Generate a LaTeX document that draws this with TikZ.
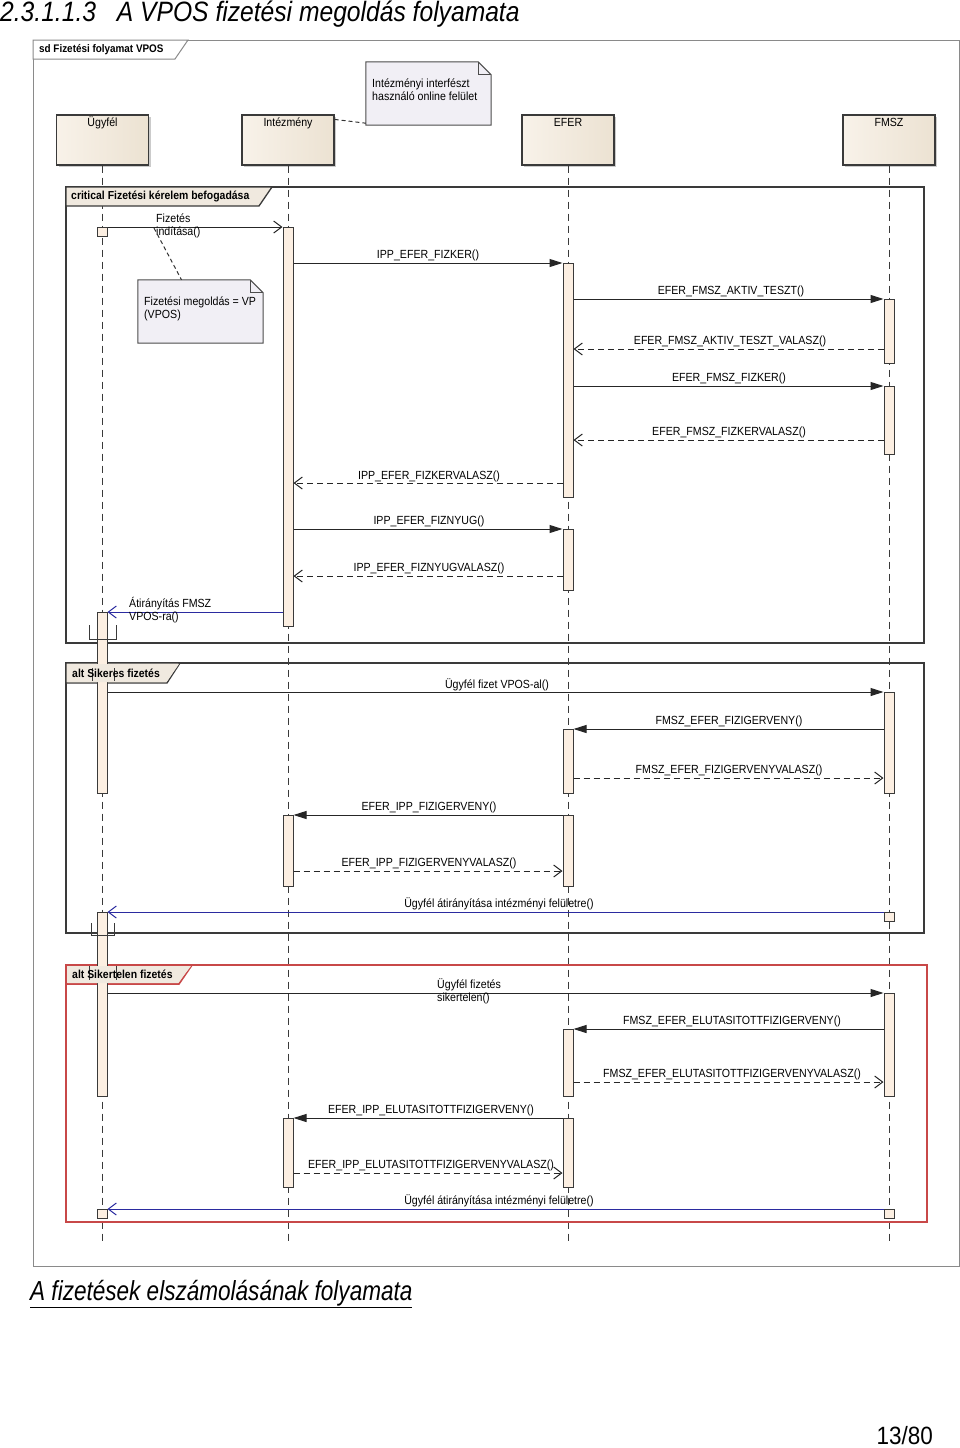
\documentclass[tikz,border=0pt]{standalone}
\usepackage{fontspec}
\setmainfont{Liberation Sans}[FakeStretch=0.9]
\newfontfamily\titlefont{Liberation Sans}[FakeStretch=0.88]
\newfontfamily\subfont{Liberation Sans}[FakeStretch=0.82]
\usetikzlibrary{arrows.meta,shadows}
\definecolor{headL}{HTML}{F8F2E9}
\definecolor{headR}{HTML}{ECE2D2}
\definecolor{actfill}{HTML}{FCEFE2}
\definecolor{notefill}{HTML}{F1EFF5}
\definecolor{framec}{HTML}{3A3A3A}
\definecolor{outerc}{HTML}{8A8A8A}
\definecolor{redc}{HTML}{C84848}
\definecolor{bluec}{HTML}{2B2BA0}
\definecolor{lblfill}{HTML}{F0E9DF}
\begin{document}
\begin{tikzpicture}[x=1pt,y=-1pt,
  head/.style={draw=framec, line width=1.2pt, left color=headL, right color=headR,
    minimum width=92pt, minimum height=50pt, inner sep=0pt,
    drop shadow={shadow xshift=2pt, shadow yshift=-2pt, fill=black!40, opacity=0.5}},
  htxt/.style={font=\fontsize{11.8}{13}\selectfont, inner sep=0pt, anchor=base},
  life/.style={draw=framec, line width=1pt, dash pattern=on 7pt off 5pt},
  act/.style={draw=framec, line width=1pt, fill=actfill, minimum width=10pt, inner sep=0pt, anchor=north},
  sq/.style={draw=framec, line width=1pt, fill=actfill, minimum width=10pt, minimum height=9pt, inner sep=0pt, anchor=north},
  lbl/.style={font=\fontsize{11.8}{13}\selectfont, inner sep=0pt, yshift=-1pt},
  lbl2/.style={font=\fontsize{11.8}{13}\selectfont, inner sep=0pt, align=left, anchor=north west},
  flbl/.style={font=\bfseries\fontsize{11.6}{13}\selectfont, inner sep=0pt, anchor=west},
  callmsg/.style={draw=black!85, line width=1pt, -{Triangle[length=13pt,width=8pt]}},
  retmsg/.style={draw=black!85, line width=1pt, dash pattern=on 6pt off 4pt, -{Straight Barb[length=8pt,width=12pt,line width=1pt]}},
  openmsg/.style={draw=black!85, line width=1pt, -{Straight Barb[length=8pt,width=12pt,line width=1pt]}},
  bluemsg/.style={draw=bluec, line width=1pt, -{Straight Barb[length=8pt,width=12pt,line width=1pt]}},
  notebox/.style={inner sep=0pt},
  noteline/.style={draw=black!70, line width=1pt, fill=notefill},
  frame/.style={draw=framec, line width=1.3pt},
  gate/.style={draw=framec, line width=1pt}
]
\useasboundingbox (0,0) rectangle (960,1448);
\fill[white] (0,0) rectangle (960,1448);

% title
\node[font=\titlefont\itshape\fontsize{28}{30}\selectfont, inner sep=0pt, anchor=base west] (title) at (0,21) {2.3.1.1.3\hspace{0.5em} A VPOS fizetési megoldás folyamata};

% outer frame
\draw[draw=outerc, line width=1pt] (33,40) rectangle (959,1266);
\draw[draw=outerc, line width=1pt, fill=white] (33,40) -- (188,40) -- (175,59) -- (33,59) -- cycle;
\node[flbl, font=\bfseries\fontsize{11}{13}\selectfont] (sdl) at (39,49.5) {sd Fizetési folyamat VPOS};

% lifeline heads
\node[head] (hu) at (102.5,140) {};
\node[head] (hi) at (288,140) {};
\node[head] (he) at (568,140) {};
\node[head] (hf) at (889,140) {};
\node[htxt] (hut) at ([yshift=-12pt]hu.north) {Ügyfél};
\node[htxt] (hit) at ([yshift=-12pt]hi.north) {Intézmény};
\node[htxt] (het) at ([yshift=-12pt]he.north) {EFER};
\node[htxt] (hft) at ([yshift=-12pt]hf.north) {FMSZ};

% lifelines
\draw[life] (hu.south) -- (hu.south |- 0,1245);
\draw[life] (hi.south) -- (hi.south |- 0,1245);
\draw[life] (he.south) -- (he.south |- 0,1245);
\draw[life] (hf.south) -- (hf.south |- 0,1245);

% note 1
\node[notebox, minimum width=125pt, minimum height=63pt] (n1) at (428.5,93.5) {};
\draw[noteline] (n1.north west) -- ([xshift=-13pt]n1.north east) -- ([yshift=-13pt]n1.north east) -- (n1.south east) -- (n1.south west) -- cycle;
\draw[draw=black!70, line width=1pt] ([xshift=-13pt]n1.north east) -- ([xshift=-13pt,yshift=-13pt]n1.north east) -- ([yshift=-13pt]n1.north east);
\node[lbl2] (n1t) at (372,79) {Intézményi interfészt\\használó online felület};
\draw[black!80, line width=1pt, dash pattern=on 4pt off 3pt] ([yshift=-5pt]hi.north east) -- ([yshift=2pt]n1.south west);

% frames
\draw[frame] (66,187) rectangle (924,643);
\draw[frame, fill=lblfill] (66,187) -- (272,187) -- (259,206) -- (66,206) -- cycle;
\node[flbl] (cl) at (71,196.5) {critical Fizetési kérelem befogadása};

\draw[frame] (66,663) rectangle (924,933);
\draw[frame, fill=lblfill] (66,663) -- (180,663) -- (167,683) -- (66,683) -- cycle;

\draw[frame, draw=redc, line width=1.6pt] (66,965) rectangle (927,1222);
\draw[frame, draw=redc, line width=1.6pt, fill=lblfill] (66,965) -- (192,965) -- (179,984) -- (66,984) -- cycle;

% activations
\node[act, minimum height=181pt] (u1) at (102,612) {};
\node[act, minimum height=184pt] (u2) at (102,912) {};
\node[act, minimum height=399pt] (i1) at (288,227) {};
\node[act, minimum height=71pt] (i2) at (288,815) {};
\node[act, minimum height=69pt] (i3) at (288,1118) {};
\node[act, minimum height=234pt] (e1) at (568,263) {};
\node[act, minimum height=61pt] (e2) at (568,529) {};
\node[act, minimum height=64pt] (e3) at (568,729) {};
\node[act, minimum height=71pt] (e4) at (568,815) {};
\node[act, minimum height=67pt] (e5) at (568,1029) {};
\node[act, minimum height=69pt] (e6) at (568,1118) {};
\node[act, minimum height=64pt] (f1) at (889,299) {};
\node[act, minimum height=68pt] (f2) at (889,386) {};
\node[act, minimum height=101pt] (f3) at (889,692) {};
\node[act, minimum height=103pt] (f4) at (889,993) {};
\node[sq] (usq1) at (102,227) {};
\node[sq] (fsq1) at (889,912) {};
\node[sq] (fsq2) at (889,1209) {};
\node[sq] (usq2) at (102,1209) {};

% labels of alt frames (drawn over the activation)
\fill[lblfill] (67.5,664) -- (179,664) -- (166.5,682) -- (67.5,682) -- cycle;
\draw[gate] (92,668) -- (92,681);
\draw[gate] (114,668) -- (114,681);
\node[flbl] (a1l) at (72,673) {alt Sikeres fizetés};
\fill[lblfill] (67.5,966) -- (191,966) -- (178,983) -- (67.5,983) -- cycle;
\draw[gate] (89,966) -- (89,980);
\draw[gate] (116,966) -- (116,980);
\node[flbl] (a2l) at (72,974) {alt Sikertelen fizetés};

% gates
\draw[gate] (89,625) -- (89,639) -- (116,639) -- (116,625);
\draw[gate] (91,923) -- (91,935) -- (114,935) -- (114,923);

% note 2
\node[notebox, minimum width=125pt, minimum height=63pt] (n2) at (200.5,311.5) {};
\draw[noteline] (n2.north west) -- ([xshift=-13pt]n2.north east) -- ([yshift=-13pt]n2.north east) -- (n2.south east) -- (n2.south west) -- cycle;
\draw[draw=black!70, line width=1pt] ([xshift=-13pt]n2.north east) -- ([xshift=-13pt,yshift=-13pt]n2.north east) -- ([yshift=-13pt]n2.north east);
\node[lbl2] (n2t) at (144,297) {Fizetési megoldás = VP\\(VPOS)};

% messages
\draw[openmsg] (usq1.north east) -- (i1.north west);
\node[lbl2] (m1) at (156,214) {Fizetés\\indítása()};
\draw[black!80, line width=1pt, dash pattern=on 4pt off 3pt] (154,228) -- ([xshift=-19pt]n2.north);

\draw[callmsg] (i1.east |- 0,263) -- (e1.north west);
\node[lbl] (m2) at (428,254) {IPP\_EFER\_FIZKER()};
\draw[callmsg] (e1.east |- 0,299) -- (f1.north west);
\node[lbl] (m3) at (731,290) {EFER\_FMSZ\_AKTIV\_TESZT()};
\draw[retmsg] (f1.west |- 0,349) -- (e1.east |- 0,349);
\node[lbl] (m4) at (730,340) {EFER\_FMSZ\_AKTIV\_TESZT\_VALASZ()};
\draw[callmsg] (e1.east |- 0,386) -- (f2.north west);
\node[lbl] (m5) at (729,377) {EFER\_FMSZ\_FIZKER()};
\draw[retmsg] (f2.west |- 0,440) -- (e1.east |- 0,440);
\node[lbl] (m6) at (729,431) {EFER\_FMSZ\_FIZKERVALASZ()};
\draw[retmsg] (e1.west |- 0,483) -- (i1.east |- 0,483);
\node[lbl] (m7) at (429,475) {IPP\_EFER\_FIZKERVALASZ()};
\draw[callmsg] (i1.east |- 0,529) -- (e2.north west);
\node[lbl] (m8) at (429,520) {IPP\_EFER\_FIZNYUG()};
\draw[retmsg] (e2.west |- 0,576) -- (i1.east |- 0,576);
\node[lbl] (m9) at (429,567) {IPP\_EFER\_FIZNYUGVALASZ()};
\draw[bluemsg] (i1.west |- 0,612) -- (u1.north east);
\node[lbl2] (m10) at (129,597) {Átirányítás FMSZ\\VPOS-ra()};

\draw[callmsg] (u1.east |- 0,692) -- (f3.north west);
\node[lbl] (m11) at (497,684) {Ügyfél fizet VPOS-al()};
\draw[callmsg] (f3.west |- 0,729) -- (e3.north east);
\node[lbl] (m12) at (729,720) {FMSZ\_EFER\_FIZIGERVENY()};
\draw[retmsg] (e3.east |- 0,778) -- (f3.west |- 0,778);
\node[lbl] (m13) at (729,769) {FMSZ\_EFER\_FIZIGERVENYVALASZ()};
\draw[callmsg] (e4.north west) -- (i2.north east);
\node[lbl] (m14) at (429,806) {EFER\_IPP\_FIZIGERVENY()};
\draw[retmsg] (i2.east |- 0,871) -- (e4.west |- 0,871);
\node[lbl] (m15) at (429,862) {EFER\_IPP\_FIZIGERVENYVALASZ()};
\draw[bluemsg] (fsq1.north west) -- (u2.north east);
\node[lbl] (m16) at (499,903) {Ügyfél átirányítása intézményi felületre()};

\draw[callmsg] (u2.east |- 0,993) -- (f4.north west);
\node[lbl2] (m17) at (437,978) {Ügyfél fizetés\\sikertelen()};
\draw[callmsg] (f4.west |- 0,1029) -- (e5.north east);
\node[lbl] (m18) at (732,1020) {FMSZ\_EFER\_ELUTASITOTTFIZIGERVENY()};
\draw[retmsg] (e5.east |- 0,1082) -- (f4.west |- 0,1082);
\node[lbl] (m19) at (732,1073) {FMSZ\_EFER\_ELUTASITOTTFIZIGERVENYVALASZ()};
\draw[callmsg] (e6.north west) -- (i3.north east);
\node[lbl] (m20) at (431,1109) {EFER\_IPP\_ELUTASITOTTFIZIGERVENY()};
\draw[retmsg] (i3.east |- 0,1173) -- (e6.west |- 0,1173);
\node[lbl] (m21) at (431,1164) {EFER\_IPP\_ELUTASITOTTFIZIGERVENYVALASZ()};
\draw[bluemsg] (fsq2.north west) -- (usq2.north east);
\node[lbl] (m22) at (499,1200) {Ügyfél átirányítása intézményi felületre()};

% bottom texts
\node[font=\subfont\itshape\fontsize{27.5}{30}\selectfont, inner sep=0pt, anchor=west] (sub) at (30,1294) {\underline{A fizetések elszámolásának folyamata}};
\node[font=\fontsize{25}{27}\selectfont, inner sep=0pt, anchor=east] (pg) at (933,1436) {13/80};
\end{tikzpicture}
\end{document}
